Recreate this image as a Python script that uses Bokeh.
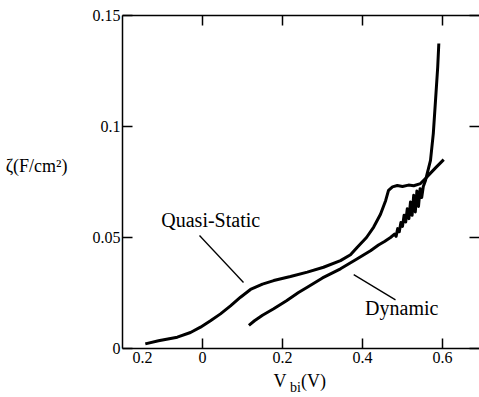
from bokeh.plotting import figure
from bokeh.models import LinearAxis, FixedTicker, Label
from bokeh.embed import file_html
from bokeh.resources import INLINE

# ---- data ----
qs_x = [-0.143, -0.11, -0.063, -0.03, -0.005, 0.02, 0.045, 0.07, 0.095, 0.12, 0.15,
        0.178, 0.22, 0.262, 0.3025, 0.345, 0.37, 0.387, 0.41, 0.428, 0.445, 0.458,
        0.465, 0.475, 0.487, 0.5, 0.515, 0.528, 0.545, 0.5575, 0.57, 0.585, 0.603]
qs_y = [0.0021, 0.0035, 0.0051, 0.0072, 0.0096, 0.0125, 0.0156, 0.0192, 0.0231, 0.0266, 0.0290,
        0.0306, 0.0324, 0.0344, 0.0366, 0.0396, 0.0422, 0.0456, 0.0500, 0.0547, 0.0605, 0.0667,
        0.0712, 0.0728, 0.0734, 0.0730, 0.0736, 0.0733, 0.0743, 0.0766, 0.0790, 0.0818, 0.0851]

dy_x = [0.116, 0.13, 0.15, 0.178, 0.21, 0.24, 0.262, 0.3, 0.345, 0.387, 0.42, 0.44, 0.455, 0.47,
        0.48, 0.484, 0.488, 0.492, 0.496, 0.50, 0.504, 0.508, 0.512, 0.516, 0.52, 0.524, 0.528,
        0.532, 0.536, 0.54, 0.544, 0.548, 0.552, 0.5575, 0.562, 0.57, 0.577, 0.5825, 0.588, 0.5908]
dy_y = [0.0104, 0.0125, 0.0150, 0.0179, 0.0215, 0.0252, 0.0276, 0.0318, 0.0359, 0.0404, 0.0440,
        0.0466, 0.0482, 0.0500, 0.0515, 0.0505, 0.0540, 0.0526, 0.0568, 0.0550, 0.0600, 0.0570,
        0.0630, 0.0585, 0.0660, 0.0600, 0.0690, 0.0615, 0.0710, 0.0640, 0.0720, 0.0680, 0.0730,
        0.0757, 0.0790, 0.0847, 0.0968, 0.1117, 0.1267, 0.1374]

x_ticks = [0, 0.2, 0.4, 0.6]
x_tick_labels = {-0.15: "0.2", 0: "0", 0.2: "0.2", 0.4: "0.4", 0.6: "0.6"}
y_ticks = [0, 0.05, 0.1, 0.15]
y_tick_labels = {0: "0", 0.05: "0.05", 0.1: "0.1", 0.15: "0.15"}

y_title = "\u03b6(F/cm\u00b2)"
x_title_main = {0.194: "V", 0.2775: "(V)"}
x_title_sub = {0.2325: "bi"}

qs_leader_x = [-0.0075, 0.1025]
qs_leader_y = [0.0509, 0.0297]
dy_leader_x = [0.378, 0.4825]
dy_leader_y = [0.0333, 0.0219]

FONT = "Liberation Serif"

p = figure(width=479, height=397, x_range=(-0.2, 0.6925), y_range=(0, 0.15),
           output_backend="svg", toolbar_location=None,
           min_border_left=122, min_border_right=0, min_border_top=15, min_border_bottom=49,
           x_axis_location=None, y_axis_location=None)
p.outline_line_color = None
p.xgrid.visible = False
p.ygrid.visible = False
p.background_fill_color = "white"
p.border_fill_color = "white"


def tick_axis(ticks):
    """Axis that only draws its line and inward ticks."""
    ax = LinearAxis(ticker=FixedTicker(ticks=ticks))
    ax.axis_line_color = "black"
    ax.axis_line_width = 1.5
    ax.major_tick_line_color = "black"
    ax.major_tick_line_width = 1.5
    ax.major_tick_in = 10
    ax.major_tick_out = 0
    ax.minor_tick_line_color = None
    ax.major_label_text_font_size = "0px"
    ax.major_label_text_color = None
    ax.major_label_standoff = 0
    return ax


def text_axis(labels, size, standoff):
    """Axis that only draws its labels (no line, no ticks)."""
    ax = LinearAxis(ticker=FixedTicker(ticks=list(labels.keys())))
    ax.major_label_overrides = labels
    ax.axis_line_color = None
    ax.major_tick_line_color = None
    ax.minor_tick_line_color = None
    ax.major_tick_in = 0
    ax.major_tick_out = 0
    ax.major_label_text_font = FONT
    ax.major_label_text_font_size = size
    ax.major_label_text_color = "black"
    ax.major_label_standoff = standoff
    return ax


# bottom: ticks, then tick labels, then the title "V_bi (V)"
p.add_layout(tick_axis(x_ticks), "below")
p.add_layout(text_axis(x_tick_labels, "16px", 3), "below")
p.add_layout(text_axis(x_title_main, "18px", 5), "below")
p.add_layout(text_axis(x_title_sub, "14px", -14), "below")

# top / right: ticks only
p.add_layout(tick_axis(x_ticks), "above")
right = tick_axis(y_ticks)
right.axis_line_color = None
p.add_layout(right, "right")

# left: ticks + labels, then horizontal title
left = tick_axis(y_ticks)
left.major_label_overrides = y_tick_labels
left.major_label_text_font = FONT
left.major_label_text_font_size = "16px"
left.major_label_text_color = "black"
left.major_label_standoff = 2
p.add_layout(left, "left")
p.add_layout(text_axis({0.0824: y_title}, "18px", 22), "left")

# curves
p.line(qs_x, qs_y, line_color="black", line_width=3)
p.line(dy_x, dy_y, line_color="black", line_width=3, line_join="round")

# leader lines
p.segment(x0=[qs_leader_x[0], dy_leader_x[0]], y0=[qs_leader_y[0], dy_leader_y[0]],
          x1=[qs_leader_x[1], dy_leader_x[1]], y1=[qs_leader_y[1], dy_leader_y[1]],
          line_color="black", line_width=1.3)

p.add_layout(Label(x=-0.103, y=0.0579, text="Quasi-Static", text_font=FONT,
                   text_font_size="20px", text_baseline="middle", text_color="black"))
p.add_layout(Label(x=0.4065, y=0.0182, text="Dynamic", text_font=FONT,
                   text_font_size="20px", text_baseline="middle", text_color="black"))

open("out.html", "w").write(file_html(p, INLINE))
